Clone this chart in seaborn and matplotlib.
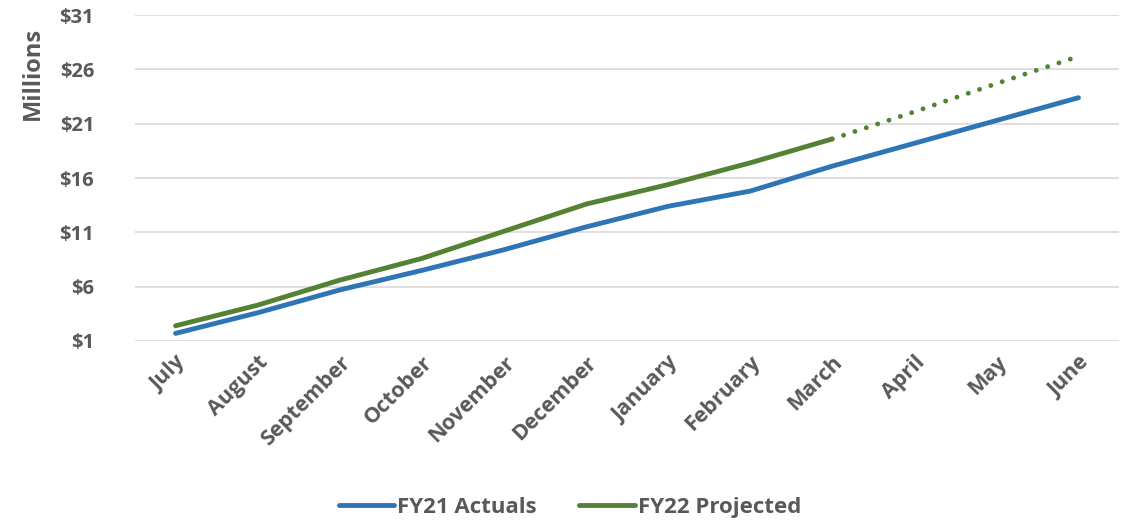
import numpy as np
import pandas as pd
import matplotlib
matplotlib.use('Agg')
import matplotlib.pyplot as plt
import seaborn as sns

months = ['July', 'August', 'September', 'October', 'November', 'December',
          'January', 'February', 'March', 'April', 'May', 'June']
fy21_actuals = [1.7, 3.6, 5.7, 7.5, 9.4, 11.5, 13.4, 14.8, 17.1, 19.2, 21.3, 23.4]
fy22_projected = [2.4, 4.3, 6.6, 8.6, 11.1, 13.6, 15.4, 17.4, 19.6]
fy22_forecast_months = ['March', 'April', 'May', 'June']
fy22_forecast = [19.6, 22.1, 24.7, 27.2]
y_ticks = [1, 6, 11, 16, 21, 26, 31]
y_labels = ['$1', '$6', '$11', '$16', '$21', '$26', '$31']

blue = '#2E75B6'
green = '#548235'
grey = '#595959'

sns.set_theme(style='white')
plt.rcParams['font.family'] = ['Open Sans', 'DejaVu Sans']

fig = plt.figure(figsize=(11.4, 5.23), dpi=100)
ax = fig.add_axes([0.118, 0.348, 0.864, 0.623])

pos = {m: i for i, m in enumerate(months)}
df21 = pd.DataFrame({'x': [pos[m] for m in months], 'y': fy21_actuals})
df22 = pd.DataFrame({'x': [pos[m] for m in months[:len(fy22_projected)]], 'y': fy22_projected})
dfp = pd.DataFrame({'x': [pos[m] for m in fy22_forecast_months], 'y': fy22_forecast})

sns.lineplot(data=df21, x='x', y='y', ax=ax, color=blue, lw=3.5,
             solid_capstyle='round', label='FY21 Actuals')
sns.lineplot(data=df22, x='x', y='y', ax=ax, color=green, lw=3.5,
             solid_capstyle='round', label='FY22 Projected')
sns.lineplot(data=dfp, x='x', y='y', ax=ax, color=green, lw=3.5,
             linestyle=(0, (0.01, 2.45)), dash_capstyle='round', legend=False)

ax.set_xlim(-0.5, 11.5)
ax.set_ylim(1, 31)
ax.set_yticks(y_ticks)
ax.set_yticklabels(y_labels)
ax.set_xticks(range(len(months)))
ax.set_xticklabels(months, rotation=45, ha='right', rotation_mode='anchor')
ax.grid(axis='y', color='#D9D9D9', lw=1.2)
ax.set_axisbelow(True)
for s in ax.spines.values():
    s.set_visible(False)
ax.tick_params(axis='both', length=0, labelsize=14.5, labelcolor=grey)
ax.tick_params(axis='x', labelsize=15.5, pad=8)
ax.tick_params(axis='y', pad=29)
for t in ax.get_xticklabels() + ax.get_yticklabels():
    t.set_fontweight('bold')
ax.set_xlabel('')
ax.set_ylabel('Millions', fontsize=17, fontweight='bold', color=grey)
ax.yaxis.set_label_coords(-0.091, 0.822)

ax.get_legend().remove()
handles, labels = ax.get_legend_handles_labels()
leg = fig.legend(handles[:2], labels[:2], loc='center', bbox_to_anchor=(0.5, 0.03), ncol=2,
                 frameon=False, handlelength=2.5, columnspacing=1.9, handletextpad=0.15,
                 prop={'size': 16, 'weight': 'bold'})
for t in leg.get_texts():
    t.set_color(grey)

fig.savefig('out.png', dpi=100)
